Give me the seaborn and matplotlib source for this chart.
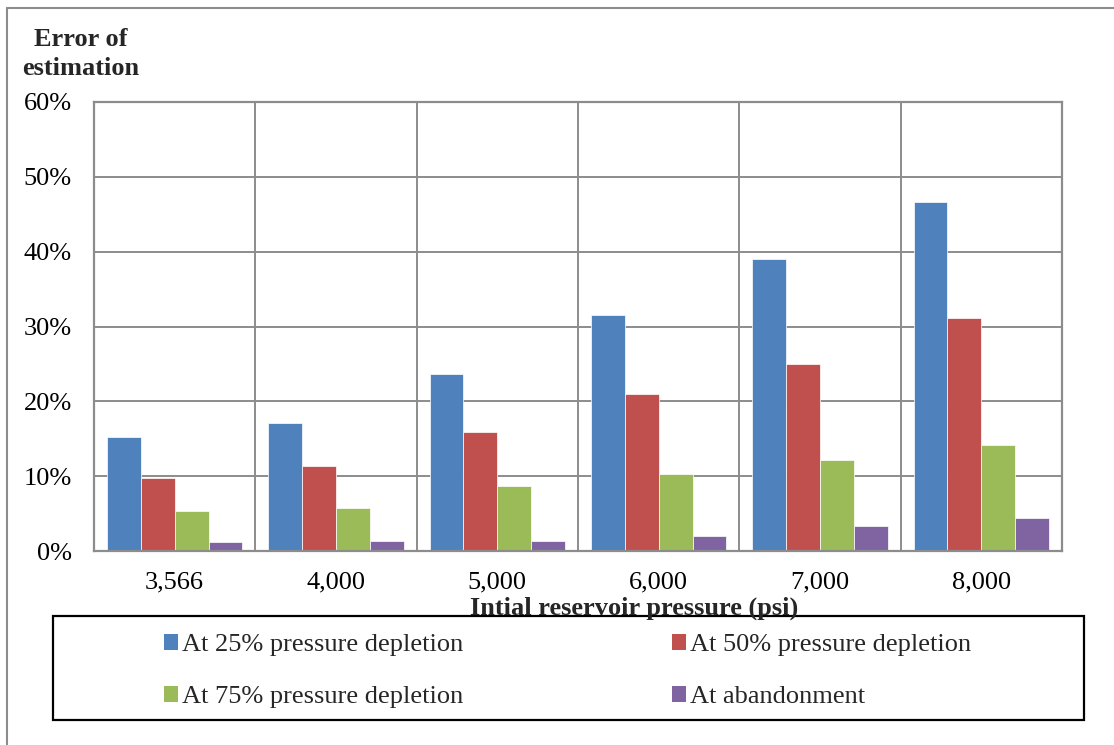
import matplotlib
matplotlib.use("Agg")
import matplotlib.pyplot as plt
import seaborn as sns
import pandas as pd
from matplotlib.patches import Rectangle
from matplotlib.lines import Line2D
from matplotlib.ticker import FuncFormatter

# Error of estimation (%) per initial reservoir pressure
pressures = ["3,566", "4,000", "5,000", "6,000", "7,000", "8,000"]
series = ["At 25% pressure depletion", "At 50% pressure depletion",
          "At 75% pressure depletion", "At abandonment"]
depletion_25 = [15.3, 17.1, 23.7, 31.6, 39.0, 46.7]
depletion_50 = [9.7, 11.4, 15.9, 21.0, 25.0, 31.2]
depletion_75 = [5.4, 5.7, 8.7, 10.3, 12.1, 14.1]
abandonment = [1.2, 1.3, 1.4, 2.0, 3.3, 4.4]
y_ticks = [0, 10, 20, 30, 40, 50, 60]
colors = ["#4F81BD", "#C0504D", "#9BBB59", "#8064A2"]

rows = []
for name, vals in zip(series, [depletion_25, depletion_50, depletion_75, abandonment]):
    for p, v in zip(pressures, vals):
        rows.append({"pressure": p, "series": name, "error": v})
df = pd.DataFrame(rows)

sns.set_style("white")
plt.rcParams["font.family"] = ["Liberation Serif", "DejaVu Serif"]

FS = 19
W, H = 1114, 745
fig = plt.figure(figsize=(W / 100, H / 100), dpi=100)
ax = fig.add_axes([94 / W, 1 - 551 / H, (1062 - 94) / W, (551 - 102) / H])

sns.barplot(data=df, x="pressure", y="error", hue="series", order=pressures,
            hue_order=series, palette=colors, width=0.84, gap=0,
            edgecolor="#ffffff", linewidth=0.5, saturation=1, ax=ax, legend=False)

grid_c = "#8c8c8c"
ax.set_ylim(0, 60)
ax.set_xlim(-0.5, len(pressures) - 0.5)
ax.set_yticks(y_ticks)
ax.yaxis.set_major_formatter(FuncFormatter(lambda v, _: f"{v:.0f}%"))
ax.set_xticks([i - 0.5 for i in range(len(pressures) + 1)], minor=True)
ax.grid(axis="y", which="major", color=grid_c, linewidth=1.4)
ax.grid(axis="x", which="minor", color=grid_c, linewidth=1.4)
ax.grid(axis="x", which="major", visible=False)
ax.set_axisbelow(True)
for s in ax.spines.values():
    s.set_color(grid_c)
    s.set_linewidth(1.6)
ax.tick_params(axis="both", which="both", length=0, labelsize=FS, colors="black")
ax.tick_params(axis="y", pad=16)
ax.tick_params(axis="x", pad=15)
ax.set_xlabel("")
ax.set_ylabel("")

# Titles
fig.text(81 / W, 1 - 54 / H, "Error of\nestimation", ha="center", va="center",
         fontsize=FS, fontweight="bold", linespacing=1.28)
fig.text(634 / W, 1 - 608 / H, "Intial reservoir pressure (psi)", ha="center",
         va="center", fontsize=FS, fontweight="bold")

# Legend box and entries
fig.add_artist(Rectangle((53 / W, 1 - 720 / H), (1084 - 53) / W, (720 - 616) / H,
                         transform=fig.transFigure, fill=False, edgecolor="black",
                         linewidth=1.6))
handles = [Rectangle((0, 0), 1, 1, facecolor=c, edgecolor="none") for c in colors]
order = [0, 2, 1, 3]
fig.legend([handles[i] for i in order], [series[i] for i in order],
           loc="upper left", bbox_to_anchor=(164 / W, 1 - 634 / H), ncol=2,
           frameon=False, fontsize=FS, handlelength=0.53, handleheight=0.53,
           handletextpad=0.15, columnspacing=7.9, labelspacing=1.13,
           borderpad=0, borderaxespad=0)

# Outer frame
fig.add_artist(Line2D([7 / W, 7 / W], [0, 1 - 8 / H], transform=fig.transFigure,
                      color="#8c8c8c", linewidth=1.5))
fig.add_artist(Line2D([7 / W, 1], [1 - 8 / H, 1 - 8 / H], transform=fig.transFigure,
                      color="#8c8c8c", linewidth=1.5))

fig.savefig("out.png", dpi=100)
